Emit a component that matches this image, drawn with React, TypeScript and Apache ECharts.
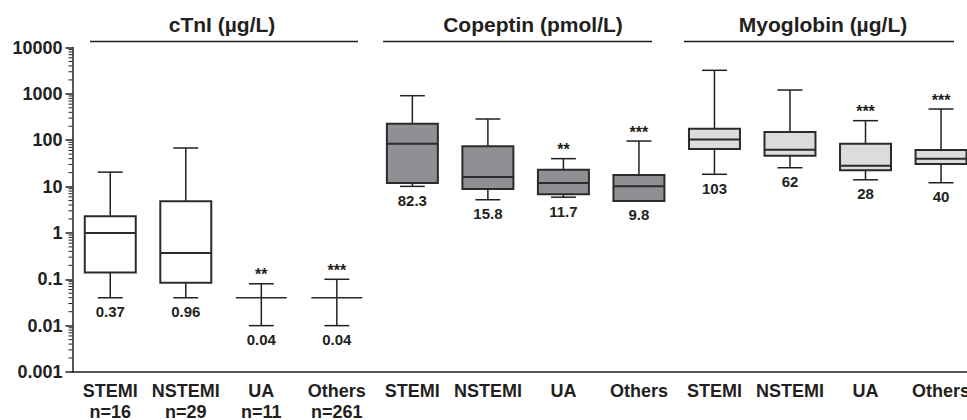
import React, { useEffect, useRef } from "react";
import * as echarts from "echarts";

const categories = [
  "STEMI\nn=16", "NSTEMI\nn=29", "UA\nn=11", "Others\nn=261",
  "STEMI", "NSTEMI", "UA", "Others",
  "STEMI", "NSTEMI", "UA", "Others",
];
const yTickLabels = ["0.001", "0.01", "0.1", "1", "10", "100", "1000", "10000"];
const groupTitles = ["cTnI (µg/L)", "Copeptin (pmol/L)", "Myoglobin (µg/L)"];

// cTnI
const ctniLow = [0.04, 0.04, 0.01, 0.01];
const ctniQ1 = [0.14, 0.084, 0.04, 0.04];
const ctniMedian = [1.0, 0.37, 0.04, 0.04];
const ctniQ3 = [2.3, 4.8, 0.04, 0.04];
const ctniHigh = [20.5, 68, 0.08, 0.1];
const ctniLabels = ["0.37", "0.96", "0.04", "0.04"];
const ctniStars = ["", "", "**", "***"];

// Copeptin
const copLow = [10.1, 5.2, 5.9, 4.9];
const copQ1 = [11.9, 8.9, 6.8, 4.9];
const copMedian = [84, 16, 11.9, 10.1];
const copQ3 = [227, 74, 23, 17.8];
const copHigh = [912, 287, 40, 96];
const copLabels = ["82.3", "15.8", "11.7", "9.8"];
const copStars = ["", "", "**", "***"];

// Myoglobin
const myoLow = [18.4, 25.5, 14, 12.1];
const myoQ1 = [65, 46, 22.4, 30.7];
const myoMedian = [104, 62, 28, 40];
const myoQ3 = [177, 150, 84, 61.5];
const myoHigh = [3220, 1210, 264, 471];
const myoLabels = ["103", "62", "28", "40"];
const myoStars = ["", "", "***", "***"];

const FONT = "'Liberation Sans', Arial, Helvetica, sans-serif";
const INK = "#231f20";

function buildData(offset: number, low: number[], q1: number[], med: number[], q3: number[], high: number[]) {
  return low.map((_, i) => [offset + i, low[i], q1[i], med[i], q3[i], high[i]]);
}

function makeRenderItem(fill: string, labels: string[], stars: string[]) {
  return (params: any, api: any) => {
    const i = params.dataIndex;
    const cat = api.value(0);
    const cs = params.coordSys;
    const band = cs.width / categories.length;
    const cx = api.coord([cat, api.value(3)])[0];
    const yLow = api.coord([cat, api.value(1)])[1];
    const yQ1 = api.coord([cat, api.value(2)])[1];
    const yMed = api.coord([cat, api.value(3)])[1];
    const yQ3 = api.coord([cat, api.value(4)])[1];
    const yHigh = api.coord([cat, api.value(5)])[1];
    const boxW = band * 0.675;
    const capW = band * 0.33;
    const hasBox = api.value(2) !== api.value(4);
    const ls = { stroke: INK, lineWidth: 1.5 };
    const ln = (x1: number, y1: number, x2: number, y2: number, style: any = ls) => ({
      type: "line",
      shape: { x1, y1, x2, y2 },
      style,
    });
    const children: any[] = [];
    if (hasBox) {
      children.push(ln(cx, yHigh, cx, yQ3));
      children.push(ln(cx, yQ1, cx, yLow));
    } else {
      children.push(ln(cx, yHigh, cx, yLow));
    }
    children.push(ln(cx - capW / 2, yHigh, cx + capW / 2, yHigh));
    children.push(ln(cx - capW / 2, yLow, cx + capW / 2, yLow));
    if (hasBox) {
      children.push({
        type: "rect",
        shape: { x: cx - boxW / 2, y: yQ3, width: boxW, height: yQ1 - yQ3 },
        style: { fill, stroke: "#2b2b2b", lineWidth: 2 },
      });
    }
    children.push(
      ln(cx - boxW / 2, yMed, cx + boxW / 2, yMed, { stroke: "#2b2b2b", lineWidth: hasBox ? 2 : 1.5 })
    );
    children.push({
      type: "text",
      x: cx,
      y: yLow + 14,
      style: {
        text: labels[i],
        fontSize: 15,
        fontWeight: "bold",
        fontFamily: FONT,
        fill: INK,
        align: "center",
        verticalAlign: "middle",
      },
    });
    if (stars[i]) {
      children.push({
        type: "text",
        x: cx,
        y: yHigh - 9,
        style: {
          text: stars[i],
          fontSize: 16,
          fontWeight: "bold",
          fontFamily: FONT,
          fill: INK,
          align: "center",
          verticalAlign: "middle",
        },
      });
    }
    return { type: "group", children };
  };
}

const minorMultipliers = [2, 3, 4, 5, 6, 7, 8, 9];
const decades = [0.001, 0.01, 0.1, 1, 10, 100, 1000];
const minorTickValues: number[] = [];
decades.forEach((d) => minorMultipliers.forEach((m) => minorTickValues.push(d * m)));

export default function App() {
  const ref = useRef<HTMLDivElement>(null);
  useEffect(() => {
    if (!ref.current) return;
    const chart = echarts.init(ref.current, null, { renderer: "svg" });
    const titleStyle = {
      fontSize: 21,
      fontWeight: "bold",
      fontFamily: FONT,
      fill: INK,
      align: "center",
      verticalAlign: "middle",
    };
    const headerLines = [
      [90, 358],
      [383, 652],
      [684, 954],
    ];
    const titleX = [222, 533, 823];
    const graphic: any[] = [];
    groupTitles.forEach((t, k) => {
      graphic.push({ type: "text", x: titleX[k], y: 24, style: { ...titleStyle, text: t } });
      graphic.push({
        type: "line",
        shape: { x1: headerLines[k][0], y1: 41.5, x2: headerLines[k][1], y2: 41.5 },
        style: { stroke: INK, lineWidth: 1.5 },
      });
    });

    const option: any = {
      animation: false,
      backgroundColor: "#ffffff",
      grid: {
        left: 72.5,
        right: -11.8,
        top: 47.5,
        bottom: 48,
        containLabel: false,
        outerBoundsMode: "none",
      },
      xAxis: {
        type: "category",
        data: categories,
        boundaryGap: true,
        axisLine: { lineStyle: { color: INK, width: 1.5 } },
        axisTick: { alignWithLabel: true, length: 6, lineStyle: { color: INK, width: 1.5 } },
        axisLabel: {
          interval: 0,
          fontSize: 18,
          fontWeight: "bold",
          fontFamily: FONT,
          color: INK,
          lineHeight: 21,
          margin: 8,
          hideOverlap: false,
        },
        splitLine: { show: false },
      },
      yAxis: {
        type: "log",
        logBase: 10,
        min: 0.001,
        max: 10000,
        axisLine: { show: true, lineStyle: { color: INK, width: 1.5 } },
        axisTick: { show: true, length: 7, lineStyle: { color: INK, width: 1.5 } },
        axisLabel: {
          fontSize: 18,
          fontWeight: "bold",
          fontFamily: FONT,
          color: INK,
          margin: 10,
          formatter: (v: number) => yTickLabels[Math.round(Math.log10(v)) + 3] ?? "",
        },
        splitLine: { show: false },
      },
      series: [
        {
          type: "custom",
          name: "minor ticks",
          silent: true,
          clip: false,
          data: minorTickValues.map((v) => [0, v]),
          renderItem: (params: any, api: any) => {
            const y = api.coord([0, api.value(1)])[1];
            const x = params.coordSys.x;
            return {
              type: "line",
              shape: { x1: x - 4, y1: y, x2: x, y2: y },
              style: { stroke: INK, lineWidth: 1 },
            };
          },
        },
        {
          type: "custom",
          name: groupTitles[0],
          data: buildData(0, ctniLow, ctniQ1, ctniMedian, ctniQ3, ctniHigh),
          renderItem: makeRenderItem("#ffffff", ctniLabels, ctniStars),
        },
        {
          type: "custom",
          name: groupTitles[1],
          data: buildData(4, copLow, copQ1, copMedian, copQ3, copHigh),
          renderItem: makeRenderItem("#8f9094", copLabels, copStars),
        },
        {
          type: "custom",
          name: groupTitles[2],
          data: buildData(8, myoLow, myoQ1, myoMedian, myoQ3, myoHigh),
          renderItem: makeRenderItem("#dcdcde", myoLabels, myoStars),
        },
      ],
      graphic,
    };
    chart.setOption(option);
    return () => chart.dispose();
  }, []);
  return (
    <div
      ref={ref}
      style={{ position: "absolute", left: 0, top: 0, width: 967, height: 420, background: "#fff" }}
    />
  );
}
